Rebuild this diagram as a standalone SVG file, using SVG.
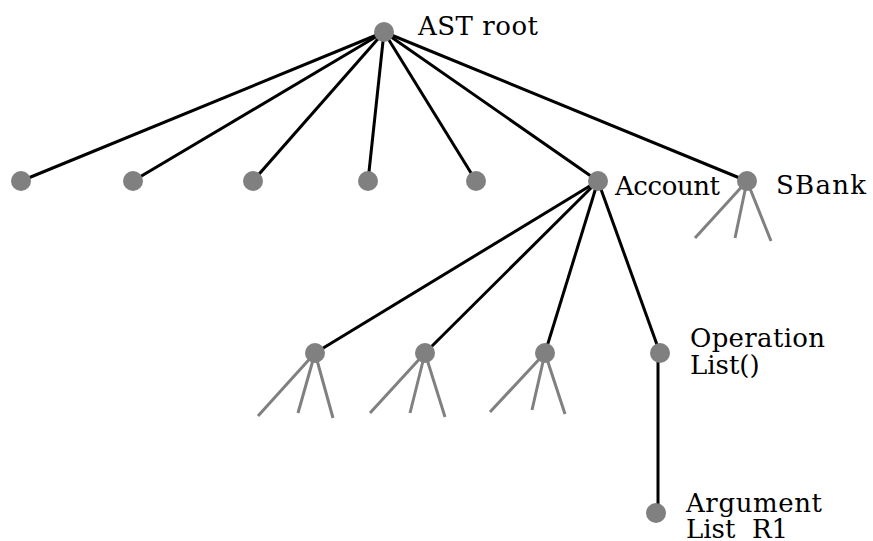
<svg xmlns="http://www.w3.org/2000/svg" width="873" height="541" viewBox="0 0 873 541">
<style>
.e{stroke:#000;stroke-width:3;fill:none}
.g{stroke:#808080;stroke-width:3;fill:none}
.n{fill:#808080}
text{font-family:"DejaVu Serif","Liberation Serif",serif;font-size:26px;fill:#000}
</style>
<rect width="873" height="541" fill="#fff"/>
<g id="connectors">
<line class="e" x1="384" y1="32" x2="21" y2="181"/>
<line class="e" x1="384" y1="32" x2="133" y2="181"/>
<line class="e" x1="384" y1="32" x2="253" y2="181"/>
<line class="e" x1="384" y1="32" x2="368" y2="181"/>
<line class="e" x1="384" y1="32" x2="476" y2="181"/>
<line class="e" x1="384" y1="32" x2="598" y2="181"/>
<line class="e" x1="384" y1="32" x2="747" y2="181"/>
<line class="e" x1="598" y1="181" x2="315" y2="353"/>
<line class="e" x1="598" y1="181" x2="425" y2="353"/>
<line class="e" x1="598" y1="181" x2="545" y2="353"/>
<line class="e" x1="598" y1="181" x2="660" y2="353"/>
<line class="e" x1="658" y1="353" x2="658" y2="512"/>
<line class="g" x1="747" y1="181" x2="695" y2="238"/>
<line class="g" x1="747" y1="181" x2="735" y2="238"/>
<line class="g" x1="747" y1="181" x2="771" y2="241"/>
<line class="g" x1="315" y1="353" x2="258" y2="416"/>
<line class="g" x1="315" y1="353" x2="298" y2="413"/>
<line class="g" x1="315" y1="353" x2="333" y2="418"/>
<line class="g" x1="425" y1="353" x2="370" y2="413"/>
<line class="g" x1="425" y1="353" x2="410" y2="413"/>
<line class="g" x1="425" y1="353" x2="445" y2="417"/>
<line class="g" x1="545" y1="353" x2="490" y2="412"/>
<line class="g" x1="545" y1="353" x2="532" y2="410"/>
<line class="g" x1="545" y1="353" x2="565" y2="414"/>
</g>
<g id="root"><circle class="n" cx="384" cy="32" r="10"/><text x="418" y="35" textLength="120">AST root</text></g>
<g id="c1"><circle class="n" cx="21" cy="181" r="10"/></g>
<g id="c2"><circle class="n" cx="133" cy="181" r="10"/></g>
<g id="c3"><circle class="n" cx="253" cy="181" r="10"/></g>
<g id="c4"><circle class="n" cx="368" cy="181" r="10"/></g>
<g id="c5"><circle class="n" cx="476" cy="181" r="10"/></g>
<g id="account"><circle class="n" cx="598" cy="181" r="10"/><text x="615" y="195" textLength="105">Account</text></g>
<g id="sbank"><circle class="n" cx="747" cy="181" r="10"/><text x="776" y="194" textLength="90">SBank</text></g>
<g id="a1"><circle class="n" cx="315" cy="353" r="10"/></g>
<g id="a2"><circle class="n" cx="425" cy="353" r="10"/></g>
<g id="a3"><circle class="n" cx="545" cy="353" r="10"/></g>
<g id="oplist"><circle class="n" cx="660" cy="353" r="10"/><text x="690" y="347" textLength="135">Operation</text><text x="690" y="374">List()</text></g>
<g id="arglist"><circle class="n" cx="656" cy="513" r="10"/><text x="686" y="512" textLength="136">Argument</text><text x="686" y="538" xml:space="preserve">List  R1</text></g>
</svg>
